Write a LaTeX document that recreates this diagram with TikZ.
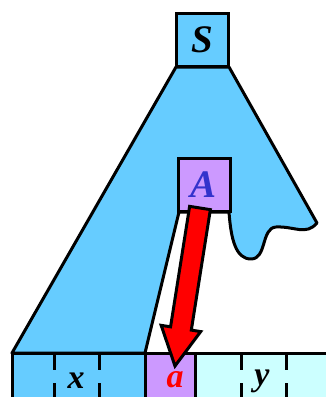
\documentclass[tikz,border=0pt]{standalone}
\usepackage{fontspec}
\setmainfont{Liberation Serif}
\usetikzlibrary{calc}
\definecolor{treeblue}{RGB}{102,204,255}
\definecolor{lpurple}{RGB}{204,153,255}
\definecolor{lcyan}{RGB}{204,255,255}
\definecolor{letterblue}{RGB}{51,51,204}
\tikzset{
  outline/.style={draw=black, line width=3pt},
  symbox/.style={outline, minimum width=52pt, minimum height=53pt, inner sep=0pt,
     font=\fontsize{39}{42}\selectfont\bfseries\itshape},
  cellletter/.style={inner sep=0pt, font=\fontsize{34}{38}\selectfont\bfseries\itshape},
  divider/.style={draw=black, line width=3pt, dash pattern=on 17pt off 13pt},
}
\begin{document}
\begin{tikzpicture}[x=1pt,y=-1pt]
\useasboundingbox (0,0) rectangle (326,397);
\clip (0,0) rectangle (326,397);
% tree blob
\draw[outline, fill=treeblue, line join=round]
  (176,67) -- (12,353) -- (145,353) -- (179,212) -- (229,212)
  .. controls (231,240) and (236,259) .. (251,259)
  .. controls (267,259) and (261,228) .. (276,227)
  .. controls (294,226) and (306,236) .. (317,223)
  -- (229,67) -- cycle;
% boxes
\node[symbox, fill=treeblue] (S) at (202.5,40) {S};
\node[symbox, fill=lpurple, text=letterblue] (A) at (204,184.5) {A};
% bottom row
\draw[outline, fill=treeblue] (12,353) rectangle (145,420);
\draw[outline, fill=lpurple] (145,353) rectangle (195,420);
\draw[outline, fill=lcyan] (195,353) rectangle (340,420);
\draw[divider] (54,353) -- (54,420);
\draw[divider] (99,353) -- (99,420);
\draw[divider] (241,353) -- (241,420);
\draw[divider] (286,353) -- (286,420);
\node[cellletter] (x) at (76,381) {x};
\node[cellletter, text=red] (a) at (175,380) {a};
\node[cellletter] (y) at (262,381) {y};
% arrow
\coordinate (P) at (200,208);
\coordinate (T) at (175,366);
\coordinate (B) at ($(T)!38pt!(P)$);
\draw[draw=black, line width=3pt, fill=red, line join=miter]
  ($(P)!10.5pt!90:(T)$) -- ($(B)!10.5pt!90:(T)$) -- ($(B)!20pt!90:(T)$) -- (T)
  -- ($(B)!20pt!-90:(T)$) -- ($(B)!10.5pt!-90:(T)$) -- ($(P)!10.5pt!-90:(T)$) -- cycle;
\end{tikzpicture}
\end{document}
